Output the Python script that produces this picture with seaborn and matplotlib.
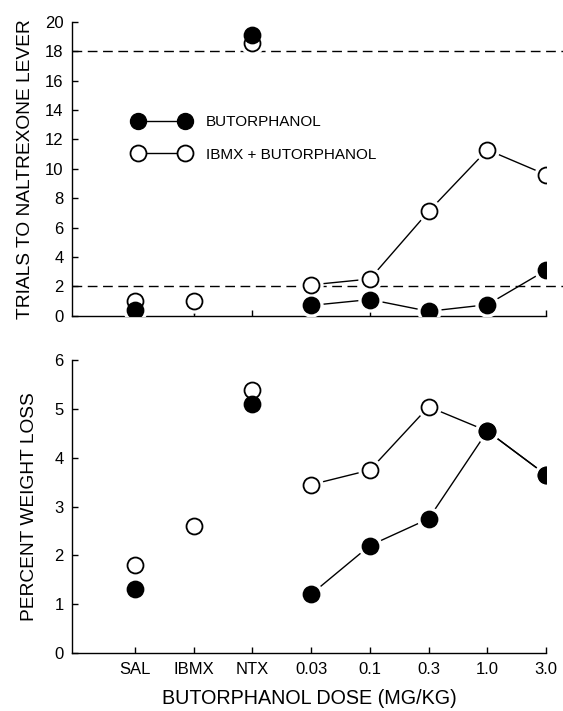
import numpy as np
import pandas as pd
import matplotlib.pyplot as plt
import seaborn as sns
from matplotlib.lines import Line2D

# x categories (equally spaced on the axis)
doses = ["SAL", "IBMX", "NTX", "0.03", "0.1", "0.3", "1.0", "3.0"]

# top panel: trials to naltrexone lever (nan = not tested)
trials_but = [0.4, np.nan, 19.1, 0.7, 1.1, 0.3, 0.75, 3.1]
trials_ibmx = [1.0, 1.0, 18.6, 2.1, 2.5, 7.1, 11.3, 9.6]
# only the lower half of the error bars shows below the symbols
trials_but_err = [0, 0, 0, 0, 0.8, 0, 0, 0]
trials_ibmx_err = [0, 0.9, 0, 0, 0, 0, 0, 0]
criterion = [2, 18]

# bottom panel: percent weight loss
weight_but = [1.3, np.nan, 5.1, 1.2, 2.2, 2.75, 4.55, 3.65]
weight_ibmx = [1.8, 2.6, 5.4, 3.45, 3.75, 5.05, 4.55, 3.65]

# which points are joined by lines (butorphanol dose range)
line_start = 3

sns.set_theme(style="ticks")
plt.rcParams["font.family"] = ["Liberation Sans", "DejaVu Sans"]
for k in ["text.color", "axes.labelcolor", "xtick.color", "ytick.color",
          "axes.edgecolor"]:
    plt.rcParams[k] = "black"

MS = 11.5
X = np.arange(len(doses))


def draw_series(ax, vals, err, filled):
    df = pd.DataFrame({"x": X, "y": vals, "err": err})
    seg = df.iloc[line_start:].dropna()
    sns.lineplot(data=seg, x="x", y="y", ax=ax, color="black", lw=1.0,
                 sort=False, zorder=2)
    pts = df.dropna()
    # lower error bars
    for _, r in pts[pts["err"] > 0].iterrows():
        ax.plot([r.x, r.x], [r.y, r.y - r.err], color="black", lw=1.0, zorder=2)
    # white halo so lines stop short of the symbols
    ax.plot(pts["x"], pts["y"], "o", ms=MS + 5, color="white", zorder=3)
    sns.scatterplot(data=pts, x="x", y="y", ax=ax, s=MS ** 2,
                    color="black" if filled else "white",
                    edgecolor="black", linewidth=1.3,
                    zorder=5 if filled else 4, legend=False)


def style_axis(ax, ymax, ystep):
    ax.set_xlim(-1.07, 7)
    ax.set_ylim(0, ymax)
    ax.set_yticks(np.arange(0, ymax + 0.1, ystep))
    ax.set_xticks(X)
    sns.despine(ax=ax)
    for s in ["left", "bottom"]:
        ax.spines[s].set_linewidth(1.0)
    ax.tick_params(direction="in", length=4, width=1.0, labelsize=12,
                   pad=6, colors="black")
    ax.tick_params(axis="x", pad=7)
    ax.set_xlabel("")


fig = plt.figure(figsize=(5.63, 7.11), dpi=100)
ax1 = fig.add_axes([0.128, 0.556, 0.842, 0.413])
ax2 = fig.add_axes([0.128, 0.082, 0.842, 0.411])

# top panel
for c in criterion:
    ax1.plot([-1.07, 7.3], [c, c], color="black", lw=1.0, ls=(0, (7, 4)),
             clip_on=False, zorder=1)
draw_series(ax1, trials_ibmx, trials_ibmx_err, filled=False)
draw_series(ax1, trials_but, trials_but_err, filled=True)
style_axis(ax1, 20, 2)
ax1.set_xticklabels([])
ax1.set_ylabel("TRIALS TO NALTREXONE LEVER", fontsize=13.8, labelpad=8)

handles = [
    Line2D([0], [0], color="black", lw=1.0, marker="o", ms=MS,
           mfc="black", mec="black"),
    Line2D([0], [0], color="black", lw=1.0, marker="o", ms=MS,
           mfc="white", mec="black", mew=1.3),
]
ax1.legend(handles, ["BUTORPHANOL", "IBMX + BUTORPHANOL"], numpoints=2,
           loc="upper left", bbox_to_anchor=(0.129, 0.683), frameon=False,
           fontsize=11, handlelength=3.7, handletextpad=1.05,
           labelspacing=1.22, borderpad=0, borderaxespad=0)

# bottom panel
draw_series(ax2, weight_ibmx, [0] * len(doses), filled=False)
draw_series(ax2, weight_but, [0] * len(doses), filled=True)
style_axis(ax2, 6, 1)
ax2.set_xticklabels(doses)
ax2.set_ylabel("PERCENT WEIGHT LOSS", fontsize=13.8, labelpad=12)
ax2.set_xlabel("BUTORPHANOL DOSE (MG/KG)", fontsize=14.2)
ax2.xaxis.set_label_coords(0.5, -0.125)

fig.savefig("out.png", dpi=100)
